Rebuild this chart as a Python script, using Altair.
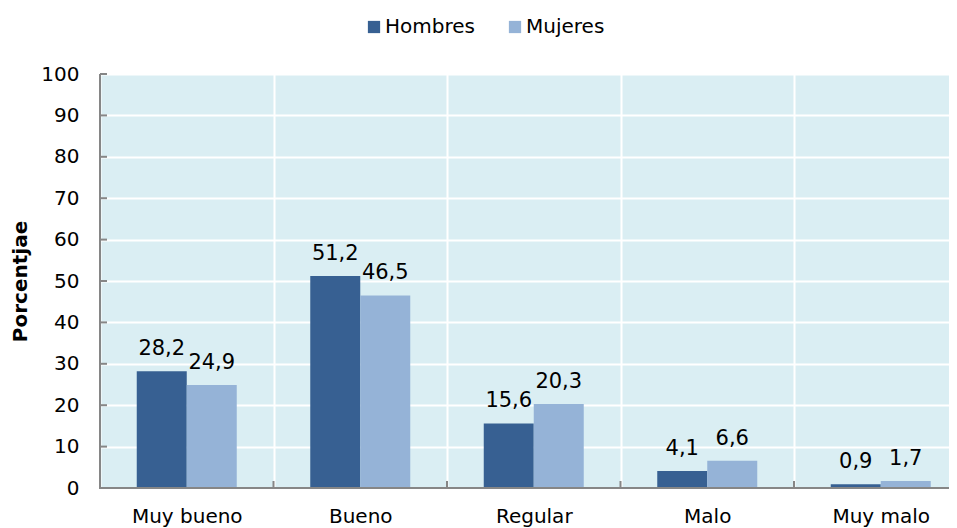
import altair as alt
import pandas as pd

categorias = ["Muy bueno", "Bueno", "Regular", "Malo", "Muy malo"]
series = ["Hombres", "Mujeres"]
hombres = [28.2, 51.2, 15.6, 4.1, 0.9]
mujeres = [24.9, 46.5, 20.3, 6.6, 1.7]
y_ticks = [0, 10, 20, 30, 40, 50, 60, 70, 80, 90, 100]

rows = []
for c, h, m in zip(categorias, hombres, mujeres):
    rows.append({"cat": c, "sexo": "Hombres", "valor": h, "label": f"{h:.1f}".replace(".", ",")})
    rows.append({"cat": c, "sexo": "Mujeres", "valor": m, "label": f"{m:.1f}".replace(".", ",")})
df = pd.DataFrame(rows)

W, H = 849, 414
FONT = "DejaVu Sans"

xscale = alt.Scale(domain=categorias, range=[0, 867.5], paddingInner=0, paddingOuter=0)
yscale = alt.Scale(domain=[0, 100], nice=False)
offscale = alt.Scale(domain=series, paddingInner=0, paddingOuter=0.735)
colscale = alt.Scale(domain=series, range=["#376092", "#95B3D7"])

x_enc = alt.X("cat:N", scale=xscale, sort=categorias,
              axis=alt.Axis(title=None, grid=True, tickBand="extent", gridColor="white",
                            gridWidth=2, gridOpacity=1, domain=False, ticks=False, tickSize=0,
                            labelFont=FONT, labelFontSize=20, labelColor="#000000",
                            labelPadding=18, labelAngle=0))
y_enc = alt.Y("valor:Q", scale=yscale,
              axis=alt.Axis(title="Porcentjae", values=y_ticks, grid=True, gridColor="white",
                            gridWidth=2, gridOpacity=1, domain=False, ticks=False, tickSize=0,
                            labelFont=FONT, labelFontSize=20, labelColor="#000000",
                            labelPadding=21, titleFont=FONT, titleFontSize=20,
                            titleFontWeight="bold", titleColor="#000000",
                            titleX=-80, titleY=207, titleAlign="center",
                            titleBaseline="middle"))

base = alt.Chart(df)

bars = base.mark_bar().encode(
    x=x_enc,
    xOffset=alt.XOffset("sexo:N", scale=offscale, sort=series),
    y=y_enc,
    color=alt.Color("sexo:N", scale=colscale, sort=series,
                    legend=alt.Legend(title=None, orient="none", direction="horizontal",
                                      legendX=264, legendY=-57, symbolType="square",
                                      symbolSize=150, symbolStrokeWidth=0, padding=0,
                                      labelFont=FONT, labelFontSize=20, labelColor="#000000",
                                      labelOffset=1, columnPadding=30)),
)

texts = base.mark_text(baseline="alphabetic", dy=-16, font=FONT, fontSize=21,
                       color="#000000").encode(
    x=alt.X("cat:N", scale=xscale, sort=categorias),
    xOffset=alt.XOffset("sexo:N", scale=offscale, sort=series),
    y=alt.Y("valor:Q", scale=yscale),
    text="label:N",
)

ytick_df = pd.DataFrame({"t": y_ticks})
ytick_marks = alt.Chart(ytick_df).mark_rule(color="#868686", strokeWidth=2).encode(
    y=alt.Y("t:Q", scale=yscale),
    x=alt.value(0), x2=alt.value(7),
)

xtick_df = pd.DataFrame({"cat": categorias[1:]})
xtick_marks = alt.Chart(xtick_df).mark_rule(color="#868686", strokeWidth=2).encode(
    x=alt.X("cat:N", scale=xscale, sort=categorias, bandPosition=0),
    y=alt.value(H), y2=alt.value(H - 7),
)

yaxis_line = alt.Chart(ytick_df).mark_rule(color="#868686", strokeWidth=2).encode(
    x=alt.value(0), y=alt.value(0), y2=alt.value(H + 1),
)
xaxis_line = alt.Chart(ytick_df).mark_rule(color="#868686", strokeWidth=2).encode(
    x=alt.value(-1), x2=alt.value(W), y=alt.value(H),
)

chart = alt.layer(bars, texts, ytick_marks, xtick_marks, yaxis_line, xaxis_line).properties(
    width=W, height=H,
    autosize=alt.AutoSizeParams(type="none"),
    padding={"left": 92, "top": 66, "right": 0, "bottom": 40},
    background="white",
).configure_view(fill="#DAEEF3", stroke=None)

chart.save("out.html", embed_options={"renderer": "svg", "actions": False})
